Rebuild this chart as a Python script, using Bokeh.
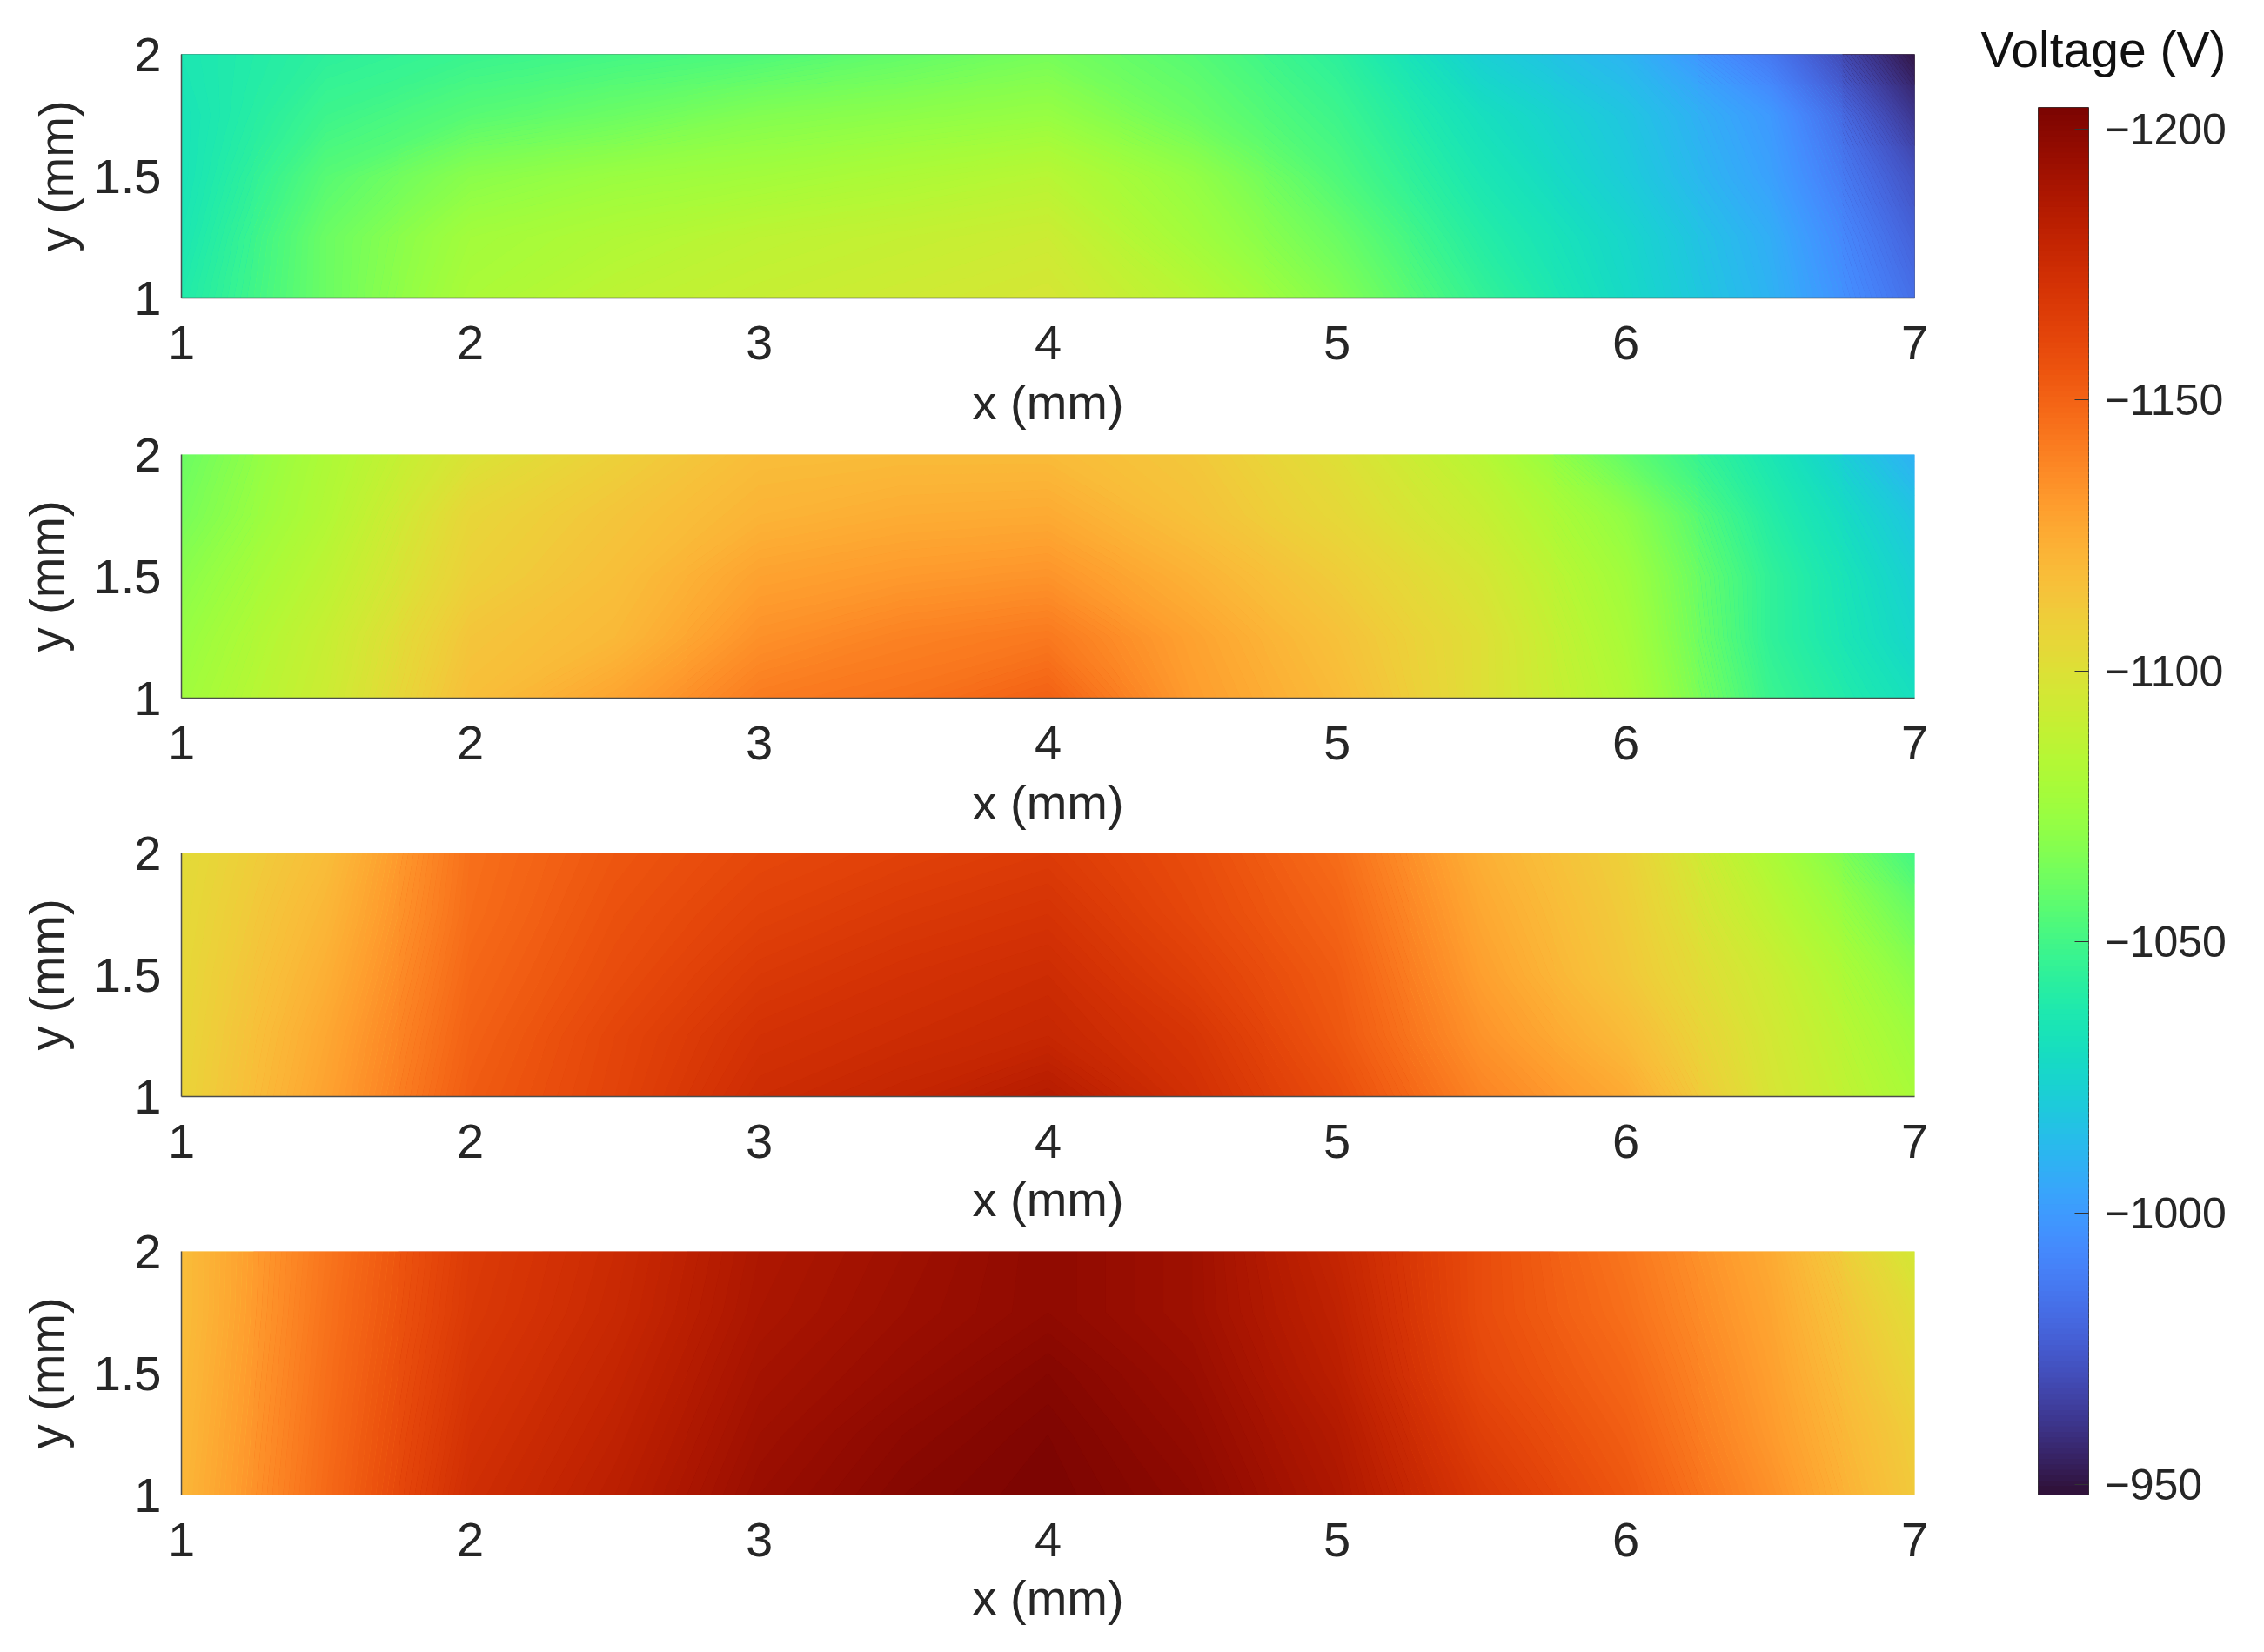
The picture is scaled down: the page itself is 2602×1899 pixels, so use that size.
from bokeh.embed import file_html
from bokeh.layouts import column, row
from bokeh.models import FixedTicker, LinearColorMapper, Range1d
from bokeh.palettes import Turbo256
from bokeh.plotting import figure
from bokeh.resources import INLINE
from bokeh.transform import transform
import numpy as np

# voltage, rows go y=2 -> y=1, columns x=1 -> x=7
x_grid = [1, 1.5, 2, 2.5, 3, 3.5, 4, 4.5, 5, 5.5, 6, 6.5, 7]
y_grid = [2, 1.75, 1.5, 1.25, 1]

v1 = [
    [-1035, -1043, -1047, -1050, -1053, -1058, -1063, -1055, -1043, -1022, -1010, -986, -950],
    [-1033, -1048, -1055, -1060, -1066, -1069, -1072, -1060, -1048, -1030, -1017, -999, -961],
    [-1033, -1055, -1068, -1073, -1076, -1080, -1084, -1071, -1053, -1035, -1020, -1002, -971],
    [-1035, -1060, -1076, -1081, -1086, -1089, -1092, -1076, -1060, -1040, -1025, -1007, -977],
    [-1038, -1060, -1079, -1086, -1090, -1093, -1096, -1084, -1066, -1045, -1027, -1009, -982],
]
v2 = [
    [-1060, -1080, -1098, -1108, -1117, -1118, -1118, -1112, -1100, -1084, -1058, -1035, -1008],
    [-1063, -1082, -1105, -1113, -1121, -1124, -1125, -1115, -1104, -1090, -1070, -1040, -1017],
    [-1068, -1086, -1108, -1116, -1128, -1131, -1133, -1122, -1110, -1096, -1075, -1044, -1022],
    [-1072, -1090, -1113, -1119, -1134, -1139, -1142, -1128, -1115, -1100, -1078, -1044, -1025],
    [-1075, -1092, -1116, -1127, -1141, -1144, -1150, -1130, -1118, -1100, -1081, -1047, -1030],
]
v3 = [
    [-1102, -1117, -1145, -1154, -1160, -1163, -1166, -1158, -1146, -1123, -1108, -1080, -1050],
    [-1103, -1120, -1146, -1156, -1163, -1167, -1170, -1160, -1149, -1126, -1110, -1086, -1060],
    [-1104, -1123, -1148, -1158, -1167, -1171, -1174, -1164, -1152, -1129, -1112, -1092, -1068],
    [-1105, -1126, -1150, -1161, -1171, -1174, -1177, -1169, -1154, -1133, -1118, -1095, -1074],
    [-1106, -1128, -1152, -1162, -1174, -1178, -1184, -1172, -1158, -1138, -1125, -1097, -1078],
]
v4 = [
    [-1117, -1143, -1166, -1175, -1187, -1192, -1197, -1192, -1178, -1158, -1143, -1125, -1095],
    [-1117, -1144, -1167, -1176, -1188, -1193, -1197, -1192, -1180, -1158, -1145, -1127, -1101],
    [-1118, -1145, -1169, -1178, -1190, -1195, -1200, -1194, -1182, -1160, -1148, -1129, -1105],
    [-1119, -1146, -1171, -1180, -1192, -1198, -1202, -1196, -1185, -1164, -1151, -1131, -1109],
    [-1120, -1147, -1173, -1182, -1194, -1200, -1203, -1198, -1187, -1168, -1154, -1134, -1111],
]

x_ticks = [1, 2, 3, 4, 5, 6, 7]
y_ticks = [1, 1.5, 2]
cbar_ticks = [-1200, -1150, -1100, -1050, -1000, -950]
v_low, v_high = -1204, -948

FONT = "Liberation Sans"
TEXT = "#262626"

palette = list(Turbo256[::-1])
levels = np.linspace(v_low, v_high, 257)
mapper = LinearColorMapper(palette=palette, low=v_low, high=v_high)


def panel(values, top, margin_top, ylab_standoff, xlab_standoff):
    p = figure(frame_width=1992, frame_height=280, width=2240, height=top + 280 + 170,
               x_range=Range1d(1, 7), y_range=Range1d(1, 2), output_backend="svg",
               toolbar_location=None, min_border_left=208, min_border_right=40,
               min_border_top=top, min_border_bottom=170, border_fill_color=None,
               background_fill_color=None, margin=(margin_top, 0, 0, 0))
    # contour wants y ascending
    grid = np.array(values, dtype=float)[::-1]
    # same grid as an image underneath, so no white shows between the contour bands
    p.image(image=[grid], x=0.75, y=0.875, dw=6.5, dh=1.25, color_mapper=mapper)
    c = p.contour(x_grid, y_grid[::-1], grid, levels, fill_color=palette, line_color=None)
    c.fill_renderer.glyph.line_color = c.fill_renderer.glyph.fill_color
    c.fill_renderer.glyph.line_width = 1.5
    p.grid.visible = False
    p.outline_line_color = None
    p.xaxis.ticker = FixedTicker(ticks=x_ticks)
    p.yaxis.ticker = FixedTicker(ticks=y_ticks)
    p.yaxis.major_label_overrides = {1: "1", 1.5: "1.5", 2: "2"}
    p.xaxis.major_label_overrides = {t: str(t) for t in x_ticks}
    p.xaxis.axis_label = "x (mm)"
    p.yaxis.axis_label = "y (mm)"
    p.xaxis.axis_label_standoff = xlab_standoff
    p.yaxis.axis_label_standoff = ylab_standoff
    for ax in (p.xaxis[0], p.yaxis[0]):
        ax.major_tick_line_color = None
        ax.minor_tick_line_color = None
        ax.axis_line_color = "#4d4d4d"
        ax.axis_line_width = 1.5
        ax.major_label_text_font = FONT
        ax.major_label_text_font_size = "56px"
        ax.major_label_text_color = TEXT
        ax.axis_label_text_font = FONT
        ax.axis_label_text_font_size = "56px"
        ax.axis_label_text_font_style = "normal"
        ax.axis_label_text_color = TEXT
    p.xaxis.major_label_standoff = 26
    p.yaxis.major_label_standoff = 17
    return p


p1 = panel(v1, 62, 0, 9, 15)
p2 = panel(v2, 40, -30, 20, 15)
p3 = panel(v3, 40, -32, 20, 13)
p4 = panel(v4, 40, -32, 20, 13)
p1.outline_line_color = "#666666"
p4.xaxis.axis_line_color = None

# colour bar, -1200 on top; taller top border + negative margin leaves room for the title
cb = figure(frame_width=58, frame_height=1595, width=350, height=1780,
            x_range=Range1d(0, 1), y_range=Range1d(v_high, v_low),
            x_axis_location=None, y_axis_location="right", output_backend="svg",
            toolbar_location=None, min_border_left=102, min_border_right=190,
            min_border_top=150, min_border_bottom=35, title="Voltage (V)",
            margin=(-27, 0, 0, 0))
cb.title.align = "left"
cb.title.offset = -66
cb.title.standoff = 70
cb.title.text_font = FONT
cb.title.text_font_size = "57px"
cb.title.text_font_style = "normal"
cb.title.text_color = "#111111"
cb.hbar(y=np.arange(v_low, v_high + 1), height=1.3, left=0, right=1,
        fill_color=transform("y", mapper), line_color=None)
cb.grid.visible = False
cb.outline_line_color = "#333333"
cb.yaxis.ticker = FixedTicker(ticks=cbar_ticks)
cb.yaxis.major_label_overrides = {t: "\u2212" + str(abs(t)) for t in cbar_ticks}
cb.yaxis.axis_line_color = None
cb.yaxis.major_tick_in = 16
cb.yaxis.major_tick_out = 0
cb.yaxis.major_tick_line_color = "#333333"
cb.yaxis.minor_tick_line_color = None
cb.yaxis.major_label_standoff = 18
cb.yaxis.major_label_text_font = FONT
cb.yaxis.major_label_text_font_size = "50px"
cb.yaxis.major_label_text_color = TEXT

layout = row(column(p1, p2, p3, p4), cb)
open("out.html", "w").write(file_html(layout, INLINE))
